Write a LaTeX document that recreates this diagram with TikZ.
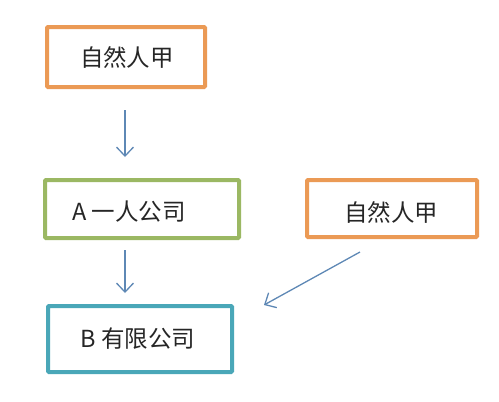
\documentclass[tikz,border=0pt]{standalone}
\usepackage{fontspec}
\setmainfont{Noto Sans CJK SC}
\usetikzlibrary{arrows.meta}
\definecolor{borange}{HTML}{EB9A55}
\definecolor{bgreen}{HTML}{9BB863}
\definecolor{bteal}{HTML}{4AA7B8}
\definecolor{barrow}{HTML}{5E88B5}
\tikzset{
  box/.style={draw=#1, line width=4pt, rounded corners=1pt},
  lbl/.style={font=\fontsize{23.5}{26}\selectfont, inner sep=0pt, text=black!85},
  conn/.style={draw=barrow, line width=1.3pt, -{Straight Barb[length=9pt,width=17pt,line width=1.3pt]}}
}
\begin{document}
\begin{tikzpicture}[x=1pt,y=-1pt]
\useasboundingbox (0,0) rectangle (499,402);
\draw[box=borange] (47,27) rectangle (205,87);
\draw[box=bgreen] (45,180) rectangle (239,238);
\draw[box=borange] (307,180) rectangle (477,237);
\draw[box=bteal] (48,306) rectangle (232,372);
\node[lbl] (t1) at (127,57) {自然人甲};
\node[lbl] (t2) at (129,212) {A 一人公司};
\node[lbl] (t3) at (391,212) {自然人甲};
\node[lbl] (t4) at (138,339) {B 有限公司};
\coordinate (a1s) at (125,110);
\coordinate (a1e) at (125,157);
\coordinate (a2s) at (125,250);
\coordinate (a2e) at (125,293);
\coordinate (a3s) at (360,252);
\coordinate (a3e) at (264,305);
\draw[conn] (a1s) -- (a1e);
\draw[conn] (a2s) -- (a2e);
\draw[conn] (a3s) -- (a3e);
\end{tikzpicture}
\end{document}
